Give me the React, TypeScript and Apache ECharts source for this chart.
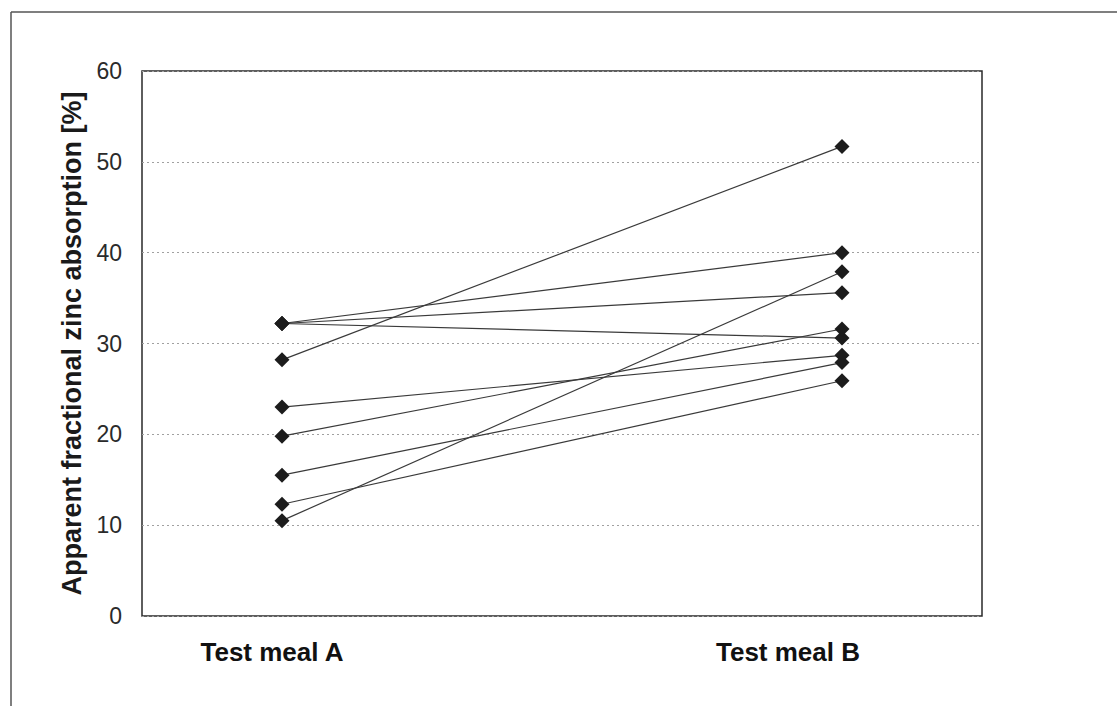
import React, { useEffect, useRef } from "react";
import * as echarts from "echarts";

const subjects = ["S1", "S2", "S3", "S4", "S5", "S6", "S7", "S8", "S9"];
const mealA = [32.2, 32.2, 32.2, 28.2, 23.0, 19.8, 15.5, 12.3, 10.5];
const mealB = [40.0, 35.6, 30.6, 51.7, 28.7, 31.6, 27.9, 25.9, 37.9];
const categoryLabels = ["Test meal A", "Test meal B"];
const categoryX = [1, 5];
const yTicks = { min: 0, max: 60, interval: 10 };
const yTitle = "Apparent fractional zinc absorption [%]";

export default function App() {
  const ref = useRef<HTMLDivElement>(null);
  useEffect(() => {
    if (!ref.current) return;
    const chart = echarts.init(ref.current, undefined, { renderer: "svg" });
    const series = subjects.map((s, i) => ({
      name: s,
      type: "line",
      data: [
        [categoryX[0], mealA[i]],
        [categoryX[1], mealB[i]],
      ],
      symbol: "diamond",
      symbolSize: 15,
      itemStyle: { color: "#1c1c1c" },
      lineStyle: { color: "#3a3a3a", width: 1.2 },
      z: 3,
    }));
    chart.setOption({
      animation: false,
      backgroundColor: "#ffffff",
      grid: {
        left: 142,
        top: 71,
        right: 135,
        bottom: 90,
        show: true,
        borderColor: "#2a2a2a",
        borderWidth: 1.5,
        backgroundColor: "transparent",
      },
      xAxis: {
        type: "value",
        min: 0,
        max: 6,
        axisLine: { show: false },
        axisTick: { show: false },
        axisLabel: { show: false },
        splitLine: { show: false },
      },
      yAxis: {
        type: "value",
        min: yTicks.min,
        max: yTicks.max,
        interval: yTicks.interval,
        axisLine: { show: false },
        axisTick: { show: false },
        axisLabel: {
          margin: 20,
          fontFamily: "Liberation Sans",
          fontSize: 23,
          color: "#2a2a2a",
        },
        splitLine: {
          show: true,
          lineStyle: { color: "#a0a0a0", type: [2, 3], width: 1 },
        },
        name: yTitle,
        nameLocation: "middle",
        nameRotate: 90,
        nameGap: 57,
        nameTextStyle: {
          fontFamily: "Liberation Sans",
          fontSize: 27,
          fontWeight: "bold",
          color: "#1a1a1a",
        },
      },
      graphic: [
        {
          type: "line",
          shape: { x1: 11, y1: 12, x2: 1117, y2: 12 },
          style: { stroke: "#555", lineWidth: 1.5 },
        },
        {
          type: "line",
          shape: { x1: 11, y1: 12, x2: 11, y2: 706 },
          style: { stroke: "#555", lineWidth: 1.5 },
        },
        {
          type: "text",
          x: 272,
          y: 652,
          style: {
            text: categoryLabels[0],
            fontFamily: "Liberation Sans",
            fontSize: 26,
            fontWeight: "bold",
            fill: "#111",
            textAlign: "center",
            textVerticalAlign: "middle",
          },
        },
        {
          type: "text",
          x: 788,
          y: 652,
          style: {
            text: categoryLabels[1],
            fontFamily: "Liberation Sans",
            fontSize: 26,
            fontWeight: "bold",
            fill: "#111",
            textAlign: "center",
            textVerticalAlign: "middle",
          },
        },
      ],
      series,
    });
    return () => chart.dispose();
  }, []);
  return (
    <div
      ref={ref}
      style={{ position: "absolute", left: 0, top: 0, width: 1117, height: 706 }}
    />
  );
}
